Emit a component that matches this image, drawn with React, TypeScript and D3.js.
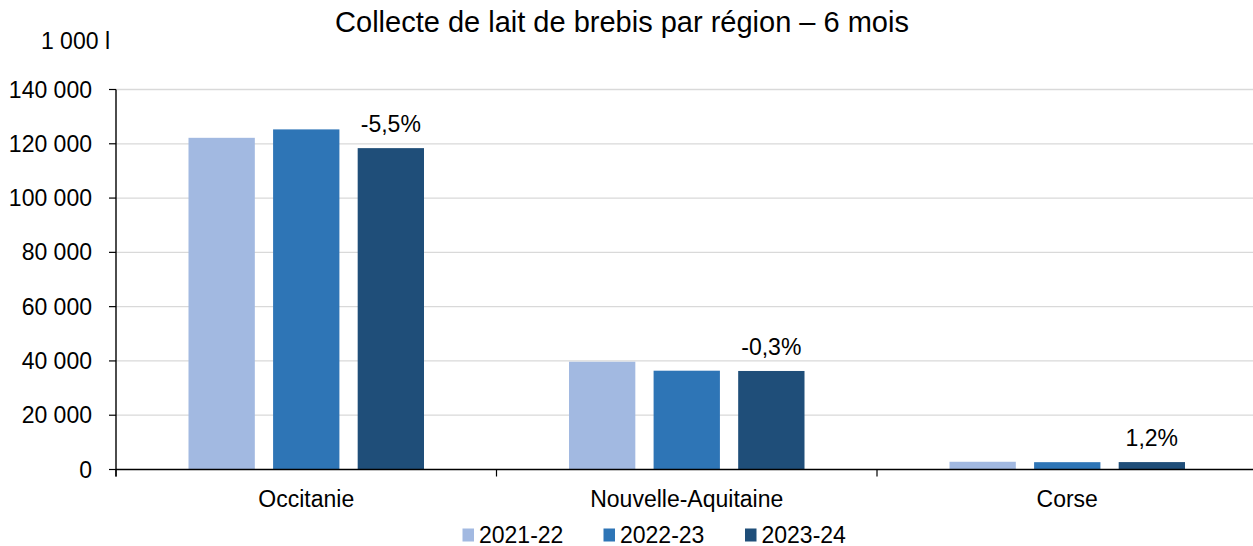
import * as d3 from "d3";

const regions = ["Occitanie", "Nouvelle-Aquitaine", "Corse"];
const seasons = ["2021-22", "2022-23", "2023-24"];
const v2021 = [122200, 39700, 2850];
const v2022 = [125300, 36400, 2700];
const v2023 = [118400, 36300, 2730];
const changeLabels = ["-5,5%", "-0,3%", "1,2%"];
const yTicks = [0, 20000, 40000, 60000, 80000, 100000, 120000, 140000];
const colors = ["#a2b9e1", "#2e75b6", "#1f4e79"];

const W = 1253;
const H = 546;
const M = { left: 116, top: 89.5, bottom: 469.5, right: 1257.5 };
const FONT = "'Liberation Sans', Arial, sans-serif";
const FS = 23;

const fmt = (v: number) => d3.format(",")(v).replace(/,/g, " ");

export default function App() {
  const series = [v2021, v2022, v2023];
  const x = d3.scaleBand().domain(regions).range([M.left, M.right]).padding(0);
  const outer = 72.5;
  const xs = d3
    .scaleBand()
    .domain(seasons)
    .range([outer, x.bandwidth() - outer])
    .paddingInner(0.216);
  const y = d3.scaleLinear().domain([0, 140000]).range([M.bottom, M.top]);

  const catEdges = regions.map((r) => x(r) as number).concat([M.right]);
  const legendX = [462.5, 603.5, 745];

  return (
    <div style={{ position: "absolute", left: 0, top: 0 }}>
      <svg width={W} height={H} style={{ display: "block", fontFamily: FONT }}>
        <rect width={W} height={H} fill="#fff" />
        <text x={622} y={32} textAnchor="middle" fontSize={29} fill="#000">
          Collecte de lait de brebis par région – 6 mois
        </text>
        <text x={110} y={48.5} textAnchor="end" fontSize={FS} fill="#000">
          1 000 l
        </text>

        {yTicks.map((t) => (
          <g key={t}>
            {t > 0 && (
              <line x1={M.left} x2={M.right} y1={y(t)} y2={y(t)} stroke="#d9d9d9" strokeWidth={1.3} />
            )}
            <line x1={M.left - 7} x2={M.left} y1={y(t)} y2={y(t)} stroke="#000" strokeWidth={1.2} />
            <text x={92} y={y(t) + 8} textAnchor="end" fontSize={FS} fill="#000">
              {fmt(t)}
            </text>
          </g>
        ))}

        {regions.map((r, i) => (
          <g key={r} transform={`translate(${x(r)},0)`}>
            {series.map((s, j) => (
              <rect
                key={seasons[j]}
                x={xs(seasons[j])}
                y={y(s[i])}
                width={xs.bandwidth()}
                height={y(0) - y(s[i])}
                fill={colors[j]}
              />
            ))}
            <text
              x={(xs(seasons[2]) as number) + xs.bandwidth() / 2}
              y={y(v2023[i]) - 16}
              textAnchor="middle"
              fontSize={FS}
              fill="#000"
            >
              {changeLabels[i]}
            </text>
            <text x={x.bandwidth() / 2} y={507} textAnchor="middle" fontSize={FS} fill="#000">
              {r}
            </text>
          </g>
        ))}

        <line x1={M.left} x2={M.left} y1={M.top} y2={M.bottom + 7} stroke="#000" strokeWidth={1.4} />
        <line x1={M.left} x2={M.right} y1={M.bottom} y2={M.bottom} stroke="#000" strokeWidth={1.6} />
        {catEdges.map((e, i) => (
          <line key={i} x1={e} x2={e} y1={M.bottom} y2={M.bottom + 7} stroke="#000" strokeWidth={1.2} />
        ))}

        {seasons.map((s, j) => (
          <g key={s}>
            <rect x={legendX[j]} y={528.5} width={11.5} height={13} fill={colors[j]} />
            <text x={legendX[j] + 16.5} y={543} fontSize={FS} fill="#000">
              {s}
            </text>
          </g>
        ))}
      </svg>
    </div>
  );
}
